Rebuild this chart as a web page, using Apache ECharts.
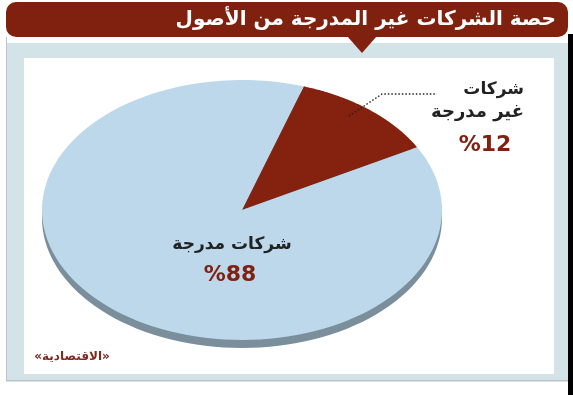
<!DOCTYPE html>
<html><head><meta charset="utf-8">
<script src="https://cdn.jsdelivr.net/npm/echarts@6/dist/echarts.min.js"></script>
<style>html,body{margin:0;padding:0;background:#fff}#c{width:573px;height:395px}</style>
</head><body><div id="c"></div>
<script>
const titleText = 'حصة الشركات غير المدرجة من الأصول';
const categories = ['شركات غير مدرجة', 'شركات مدرجة'];
const values = [12, 88];
const valueLabels = ['%12', '%88'];
const sourceText = '«الاقتصادية»';

const colors = ['#84210f', '#bdd8eb'];
const sideColor = '#7a8e9c';
const cx = 242, cy = 210, rx = 200, ry = 130, depth = 8;
const startAngle = 72; // degrees, clockwise
const total = values.reduce((a, b) => a + b, 0);

function slicePoints(i, dy) {
  let before = 0;
  for (let k = 0; k < i; k++) before += values[k];
  const a0 = startAngle - before / total * 360;
  const a1 = a0 - values[i] / total * 360;
  const pts = [[cx, cy + dy]];
  const n = 120;
  for (let s = 0; s <= n; s++) {
    const a = (a0 + (a1 - a0) * s / n) * Math.PI / 180;
    pts.push([cx + rx * Math.cos(a), cy + dy - ry * Math.sin(a)]);
  }
  return pts;
}

const data = values.map((v, i) => ({ value: v, name: categories[i] }));

const F = 'DejaVu Sans';
const option = {
  backgroundColor: '#ffffff',
  animation: false,
  graphic: [
    { type: 'rect', shape: { x: 568, y: 34, width: 5, height: 361 }, style: { fill: '#000' }, z: 0 },
    { type: 'rect', shape: { x: 6, y: 37, width: 1, height: 344 }, style: { fill: '#b9c3c7' }, z: 0 },
    { type: 'rect', shape: { x: 6, y: 380, width: 562, height: 1.5 }, style: { fill: '#b9c3c7' }, z: 0 },
    { type: 'rect', shape: { x: 7, y: 43, width: 561, height: 337 }, style: { fill: '#d3e3e7' }, z: 0 },
    { type: 'rect', shape: { x: 24, y: 58, width: 530, height: 316 }, style: { fill: '#ffffff' }, z: 0 },
    { type: 'rect', shape: { x: 6, y: 2, width: 562, height: 35, r: 10 }, style: { fill: '#80210f' }, z: 1 },
    { type: 'polygon', shape: { points: [[347, 36], [377, 36], [362, 53]] }, style: { fill: '#80210f' }, z: 1 },
    { type: 'text', x: 556, y: 20, style: { text: titleText, fill: '#fff', font: 'bold 20px "' + F + '"', align: 'right', verticalAlign: 'middle' }, z: 5 },
    { type: 'text', x: 232, y: 245, style: { text: categories[1], fill: '#222', font: 'bold 17px "' + F + '"', align: 'center', verticalAlign: 'middle' }, z: 5 },
    { type: 'text', x: 230, y: 275, style: { text: valueLabels[1], fill: '#7f2110', font: 'bold 22px "' + F + '"', align: 'center', verticalAlign: 'middle' }, z: 5 },
    { type: 'text', x: 524, y: 90, style: { text: categories[0].split(' ')[0], fill: '#222', font: 'bold 17px "' + F + '"', align: 'right', verticalAlign: 'middle' }, z: 5 },
    { type: 'text', x: 524, y: 112, style: { text: categories[0].split(' ').slice(1).join(' '), fill: '#222', font: 'bold 18px "' + F + '"', align: 'right', verticalAlign: 'middle' }, z: 5 },
    { type: 'text', x: 485, y: 145, style: { text: valueLabels[0], fill: '#7f2110', font: 'bold 22px "' + F + '"', align: 'center', verticalAlign: 'middle' }, z: 5 },
    { type: 'polyline', shape: { points: [[349, 116], [382, 94], [437, 94]] }, style: { stroke: '#222', lineWidth: 1.4, lineDash: [1.5, 2], fill: null }, z: 5 },
    { type: 'text', x: 72, y: 357, style: { text: sourceText, fill: '#7f2a1e', font: 'bold 12px "' + F + '"', align: 'center', verticalAlign: 'middle' }, z: 5 }
  ],
  series: [
    {
      type: 'custom', coordinateSystem: 'none', z: 2, data: data,
      renderItem: function (params) {
        return { type: 'polygon', shape: { points: slicePoints(params.dataIndex, depth) }, style: { fill: sideColor } };
      }
    },
    {
      type: 'custom', coordinateSystem: 'none', z: 3, data: data,
      renderItem: function (params) {
        const i = params.dataIndex;
        return { type: 'polygon', shape: { points: slicePoints(i, 0) }, style: { fill: colors[i] } };
      }
    }
  ]
};
const chart = echarts.init(document.getElementById('c'));
chart.setOption(option);
</script></body></html>
